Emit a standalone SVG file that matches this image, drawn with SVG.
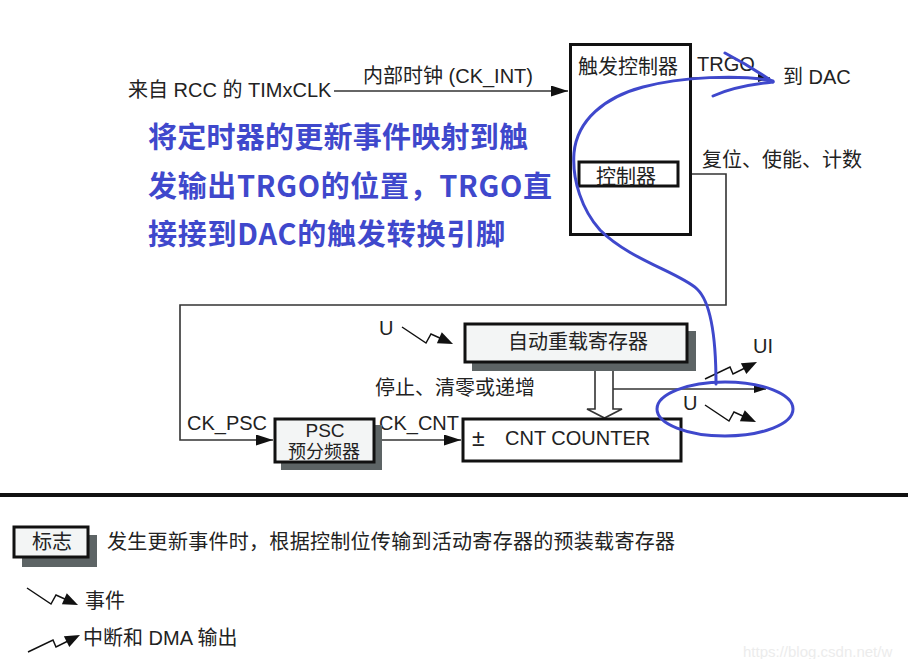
<svg xmlns="http://www.w3.org/2000/svg" width="908" height="659" viewBox="0 0 908 659">
<style>
text{font-family:"Liberation Sans","Noto Sans CJK SC",sans-serif;font-size:20px;fill:#222}
.box{fill:#fff;stroke:#111;stroke-width:3}
.reg{fill:#f3f5f5;stroke:#111;stroke-width:3}
.shadow{fill:#5d6465}
.wire{fill:none;stroke:#333;stroke-width:1.6}
.blue{fill:none;stroke:#3f48cc;stroke-width:3;stroke-linecap:round;stroke-linejoin:round}
.note{font-family:"Noto Sans CJK SC",sans-serif;font-weight:700;font-size:29px;fill:#3f48cc}
.sym{fill:none;stroke:#111;stroke-width:1.5}
</style>
<defs>
<marker id="arr" markerUnits="userSpaceOnUse" markerWidth="17" markerHeight="11" refX="17" refY="5.5" orient="auto">
<path d="M0,0 L17,5.5 L0,11 z" fill="#111"/>
</marker>
<marker id="arrs" markerUnits="userSpaceOnUse" markerWidth="12" markerHeight="8" refX="12" refY="4" orient="auto">
<path d="M0,0 L12,4 L0,8 z" fill="#111"/>
</marker>
<g id="evt">
<polyline class="sym" points="0,0 24,16 29,7 40,12"/>
<polygon points="51,17 34.9,16.3 39.8,5.3" fill="#111"/>
</g>
<g id="irq">
<polyline class="sym" points="0,0 25,-12 28,-5 40,-11"/>
<polygon points="52,-17 41.3,-4.9 35.9,-15.7" fill="#111"/>
</g>
</defs>
<rect width="908" height="659" fill="#fff"/>

<g id="connectors">
<text x="128" y="97">来自 RCC 的 TIMxCLK</text>
<text x="363" y="83">内部时钟 (CK_INT)</text>
<line class="wire" x1="334" y1="91" x2="568" y2="91" marker-end="url(#arr)"/>
<line class="wire" x1="692" y1="78" x2="770" y2="78" marker-end="url(#arrs)"/>
<text x="697" y="71">TRGO</text>
<text x="783" y="84">到 DAC</text>
<text x="702" y="167">复位、使能、计数</text>
<polyline class="wire" points="679,174 726,174 726,305 180,305 180,440 273,440" marker-end="url(#arr)"/>
<text x="187" y="430">CK_PSC</text>
<line class="wire" x1="376" y1="440" x2="461" y2="440" marker-end="url(#arr)"/>
<text x="379" y="430">CK_CNT</text>
<text x="375" y="395">停止、清零或递增</text>
<path d="M595,364 V409 H587 L604.5,418 L622,409 H613 V364" fill="#fff" stroke="#333" stroke-width="1.6"/>
<line class="wire" x1="613" y1="389" x2="766" y2="389" marker-end="url(#arrs)"/>
<text x="379" y="335">U</text>
<use href="#evt" x="402" y="327"/>
<text x="753" y="353">UI</text>
<use href="#irq" x="705" y="379"/>
<text x="683" y="410">U</text>
<use href="#evt" x="705" y="405"/>
</g>

<g id="trigger-controller">
<rect class="box" x="570.5" y="44.5" width="120" height="190"/>
<text x="578" y="74">触发控制器</text>
</g>
<g id="controller">
<rect class="box" x="579" y="162" width="99" height="24"/>
<text x="596" y="184">控制器</text>
</g>
<g id="auto-reload">
<rect class="shadow" x="472" y="331" width="224" height="40"/>
<rect class="reg" x="465" y="324" width="222" height="38"/>
<text x="508" y="349">自动重载寄存器</text>
</g>
<g id="psc">
<rect class="shadow" x="281" y="425" width="101" height="45"/>
<rect class="reg" x="275" y="419" width="99" height="43"/>
<text x="325" y="437" text-anchor="middle" style="font-size:19px">PSC</text>
<text x="324" y="458" text-anchor="middle" style="font-size:18px">预分频器</text>
</g>
<g id="cnt-counter">
<rect class="box" x="463" y="419" width="218" height="42"/>
<text x="472" y="446" style="font-size:23px">±</text>
<text x="505" y="445">CNT COUNTER</text>
</g>

<g id="annotation">
<text class="note" x="148" y="148" textLength="380" lengthAdjust="spacing">将定时器的更新事件映射到触</text>
<text class="note" x="148" y="197" textLength="404" lengthAdjust="spacing">发输出TRGO的位置，TRGO直</text>
<text class="note" x="148" y="245" textLength="357" lengthAdjust="spacing">接接到DAC的触发转换引脚</text>
<path class="blue" d="M716,384 C716,340 712,303 697,289 C680,273 630,260 600,230 C582,210 572,180 574,153 C577,120 605,97 643,87 C680,77 740,74 773,81"/>
<path class="blue" d="M725,53 Q750,66 773,82"/>
<path class="blue" d="M713,96 Q735,86 773,82"/>
<ellipse class="blue" cx="725" cy="409" rx="68" ry="27" stroke-width="3.5"/>
</g>

<line x1="0" y1="495" x2="908" y2="495" stroke="#111" stroke-width="4"/>

<g id="legend">
<rect class="shadow" x="22" y="535" width="75" height="32"/>
<rect class="reg" x="14" y="527" width="74" height="30"/>
<text x="32" y="549">标志</text>
<text x="107" y="549" textLength="568" lengthAdjust="spacing">发生更新事件时，根据控制位传输到活动寄存器的预装载寄存器</text>
<use href="#evt" x="27" y="588"/>
<text x="85" y="608">事件</text>
<use href="#irq" x="28" y="652"/>
<text x="83" y="645">中断和 DMA 输出</text>
</g>
<text x="743" y="657" style="font-size:15px;fill:#ececec">https://blog.csdn.net/w</text>
</svg>
